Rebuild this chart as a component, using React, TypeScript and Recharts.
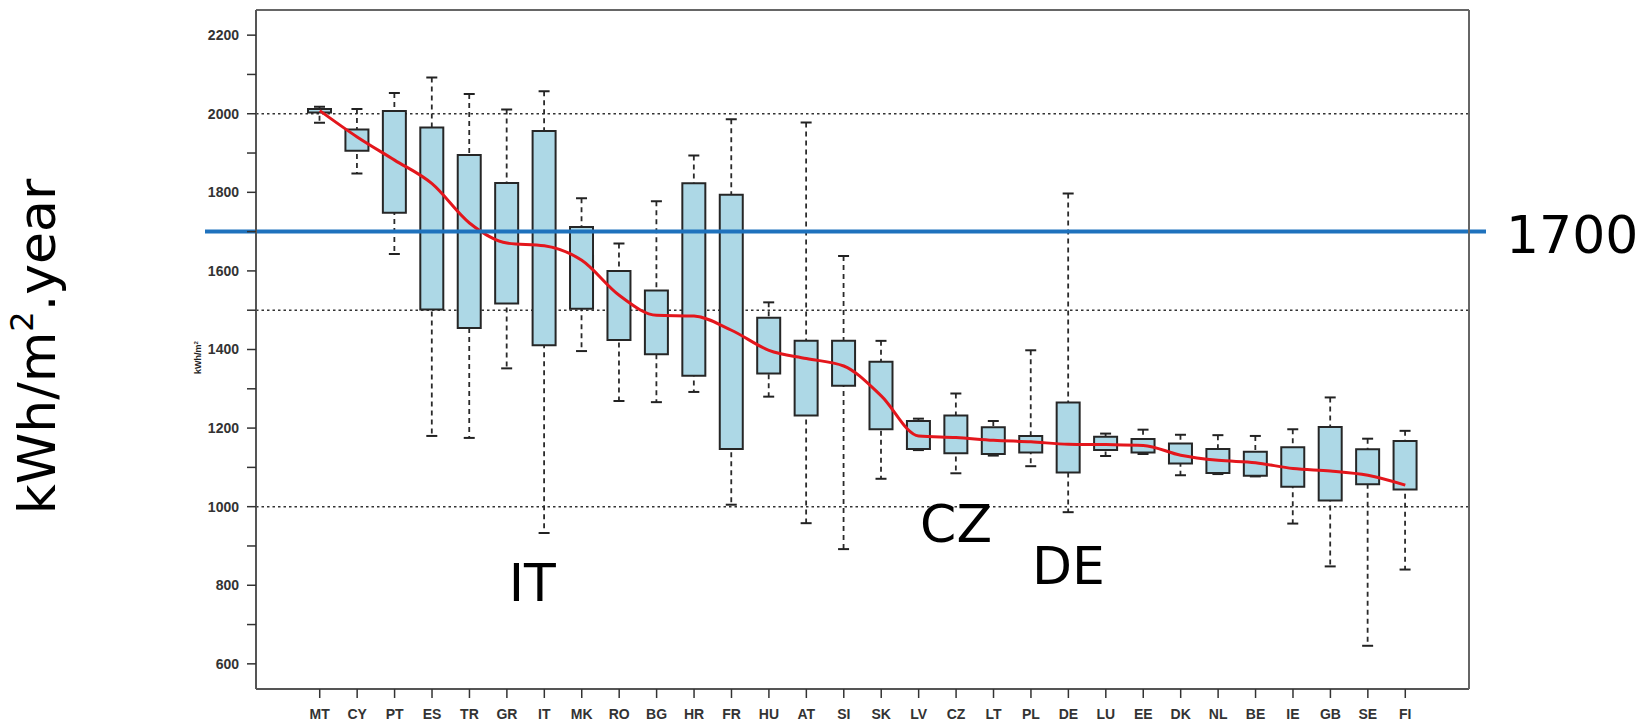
import React from 'react';
import {
  ComposedChart,
  Bar,
  Line,
  XAxis,
  YAxis,
  ReferenceLine,
  ReferenceDot,
  CartesianGrid,
  Label,
} from 'recharts';

// ---------------- data ----------------
const countries = ['MT', 'CY', 'PT', 'ES', 'TR', 'GR', 'IT', 'MK', 'RO', 'BG', 'HR', 'FR', 'HU', 'AT', 'SI', 'SK', 'LV', 'CZ', 'LT', 'PL', 'DE', 'LU', 'EE', 'DK', 'NL', 'BE', 'IE', 'GB', 'SE', 'FI'];
const whiskerLow = [1977, 1848, 1643, 1180, 1175, 1352, 933, 1396, 1269, 1266, 1292, 1005, 1280, 958, 892, 1071, 1144, 1085, 1130, 1103, 986, 1129, 1134, 1080, 1083, 1077, 957, 848, 646, 840];
const boxLow = [2003, 1906, 1748, 1502, 1455, 1517, 1411, 1504, 1424, 1388, 1333, 1147, 1339, 1232, 1308, 1197, 1147, 1136, 1134, 1138, 1087, 1144, 1138, 1110, 1086, 1079, 1051, 1016, 1057, 1044];
const boxHigh = [2012, 1960, 2007, 1965, 1895, 1824, 1956, 1712, 1600, 1550, 1823, 1794, 1481, 1422, 1422, 1369, 1218, 1232, 1202, 1180, 1265, 1178, 1172, 1161, 1147, 1140, 1151, 1203, 1146, 1167];
const whiskerHigh = [2018, 2012, 2053, 2092, 2050, 2011, 2057, 1785, 1670, 1777, 1894, 1986, 1520, 1978, 1638, 1422, 1224, 1288, 1218, 1398, 1797, 1186, 1196, 1183, 1182, 1180, 1197, 1278, 1173, 1193];
const medianLine = [2008, 1941, 1882, 1822, 1722, 1671, 1664, 1627, 1538, 1487, 1485, 1449, 1398, 1377, 1358, 1282, 1180, 1176, 1169, 1165, 1159, 1158, 1156, 1131, 1118, 1112, 1097, 1091, 1080, 1055];

const yTicks = [600, 700, 800, 900, 1000, 1100, 1200, 1300, 1400, 1500, 1600, 1700, 1800, 1900, 2000, 2100, 2200];
const yLabelled = [600, 800, 1000, 1200, 1400, 1600, 1800, 2000, 2200];
const yDomain = [536, 2264];
const gridValues = [1000, 1500, 2000];
const threshold = 1700;
const thresholdLabel = '1700';
const annotationCodes = ['IT', 'CZ', 'DE'];
const annotationValues = [760, 909, 802];
const axisTitle = 'kWh/m';
const axisTitleTail = '.year';
const innerTitle = 'kWh/m';

const data = countries.map((code, i) => ({
  code,
  whisker: [whiskerLow[i], whiskerHigh[i]],
  box: [boxLow[i], boxHigh[i]],
  median: medianLine[i],
}));

// ---------------- styling helpers ----------------
const TICK_FONT = 'Liberation Sans, Arial, sans-serif';
const BIG_FONT = 'DejaVu Sans, Verdana, sans-serif';
const annotationShift: Record<string, number> = { IT: -12 };

const WhiskerShape = (p: any) => {
  const { x, y, width, height } = p;
  if (x == null || y == null) return null;
  const cx = x + width / 2;
  const top = Math.min(y, y + height);
  const bot = Math.max(y, y + height);
  return (
    <g>
      <line x1={cx} x2={cx} y1={top} y2={bot} stroke="#2a2a2a" strokeWidth={1.8} strokeDasharray="5 4" />
      <line x1={cx - 5.5} x2={cx + 5.5} y1={top} y2={top} stroke="#222" strokeWidth={2} />
      <line x1={cx - 5.5} x2={cx + 5.5} y1={bot} y2={bot} stroke="#222" strokeWidth={2} />
    </g>
  );
};

const TitleContent = (props: any) => {
  const vb = props.viewBox || { x: 0, y: 10, width: 256, height: 679 };
  const bx = vb.x + 55;
  const by = vb.y + vb.height / 2 - 3;
  const sx = vb.x + 201;
  const sy = vb.y + vb.height / 2 + 8;
  return (
    <g>
      <text
        x={bx}
        y={by}
        transform={`rotate(-90, ${bx}, ${by})`}
        textAnchor="middle"
        fontSize={52}
        fontFamily={BIG_FONT}
        fill="#000"
      >
        {axisTitle}
        <tspan dy={-22} fontSize={32}>2</tspan>
        <tspan dy={22}>{axisTitleTail}</tspan>
      </text>
      <text
        x={sx}
        y={sy}
        transform={`rotate(-90, ${sx}, ${sy})`}
        textAnchor="middle"
        fontSize={9}
        fontWeight="bold"
        fontFamily={TICK_FONT}
        fill="#222"
      >
        {innerTitle}
        <tspan dy={-3} fontSize={6}>2</tspan>
      </text>
    </g>
  );
};

const gridGenerator = (props: any) => {
  const yAxis = props && props.yAxis;
  if (yAxis && typeof yAxis.scale === 'function') {
    return gridValues.map((v) => yAxis.scale(v));
  }
  const off = props.offset || { top: 10, height: 679 };
  return gridValues.map((v) => off.top + ((yDomain[1] - v) / (yDomain[1] - yDomain[0])) * off.height);
};

export default function App() {
  return (
    <div style={{ position: 'absolute', left: 0, top: 0, width: 1651, height: 724, background: '#fff' }}>
      <ComposedChart
        width={1651}
        height={724}
        data={data}
        margin={{ top: 9, right: 181, bottom: 0, left: 0 }}
      >
        <CartesianGrid
          vertical={false}
          horizontal
          horizontalCoordinatesGenerator={gridGenerator}
          stroke="#333"
          strokeWidth={1.5}
          strokeDasharray="2.5 3"
        />
        <XAxis
          dataKey="code"
          type="category"
          interval={0}
          padding={{ left: 45, right: 45 }}
          height={35}
          tickSize={9}
          tickMargin={11}
          axisLine={{ stroke: '#555', strokeWidth: 2 }}
          tickLine={{ stroke: '#333', strokeWidth: 1.5 }}
          tick={{ fontSize: 14, fontWeight: 'bold', fill: '#333', fontFamily: TICK_FONT }}
        />
        <XAxis dataKey="code" xAxisId="w" type="category" hide padding={{ left: 45, right: 45 }} />
        <XAxis
          dataKey="code"
          xAxisId="top"
          type="category"
          orientation="top"
          height={1}
          tick={false}
          tickLine={false}
          axisLine={{ stroke: '#666', strokeWidth: 2 }}
        />
        <YAxis
          type="number"
          domain={yDomain}
          ticks={yTicks}
          interval={0}
          allowDataOverflow
          width={256}
          tickSize={9}
          tickMargin={8}
          tickFormatter={(v: number) => (yLabelled.includes(v) ? String(v) : '')}
          axisLine={{ stroke: '#555', strokeWidth: 2 }}
          tickLine={{ stroke: '#333', strokeWidth: 1.5 }}
          tick={{ fontSize: 14, fontWeight: 'bold', fill: '#333', fontFamily: TICK_FONT }}
          label={<Label content={TitleContent} />}
        />
        <YAxis
          yAxisId="r"
          orientation="right"
          type="number"
          domain={yDomain}
          width={1}
          tick={false}
          tickLine={false}
          axisLine={{ stroke: '#666', strokeWidth: 2 }}
        />
        <Bar
          dataKey="whisker"
          xAxisId="w"
          barSize={23}
          shape={WhiskerShape}
          isAnimationActive={false}
        />
        <Bar
          dataKey="box"
          barSize={23}
          fill="#add8e6"
          stroke="#262626"
          strokeWidth={2}
          isAnimationActive={false}
        />
        <Line
          dataKey="median"
          type="monotone"
          stroke="#e3161c"
          strokeWidth={3}
          dot={false}
          activeDot={false}
          isAnimationActive={false}
        />
        <ReferenceLine
          y={threshold}
          stroke="#1f72bd"
          strokeWidth={4}
          shape={(p: any) => (
            <line x1={p.x1 - 51} x2={p.x2 + 17} y1={p.y1} y2={p.y2} stroke="#1f72bd" strokeWidth={4} />
          )}
          label={{ value: thresholdLabel, position: 'right', offset: 37, dy: 3, fontSize: 52, fill: '#000', fontFamily: BIG_FONT }}
        />
        {annotationCodes.map((code, i) => (
          <ReferenceDot
            key={code}
            x={code}
            y={annotationValues[i]}
            r={1}
            shape={(p: any) => (
              <text
                x={p.cx + (annotationShift[code] || 0)}
                y={p.cy}
                textAnchor="middle"
                fontSize={52}
                fontFamily={BIG_FONT}
                fill="#000"
              >
                {code}
              </text>
            )}
          />
        ))}
      </ComposedChart>
    </div>
  );
}
